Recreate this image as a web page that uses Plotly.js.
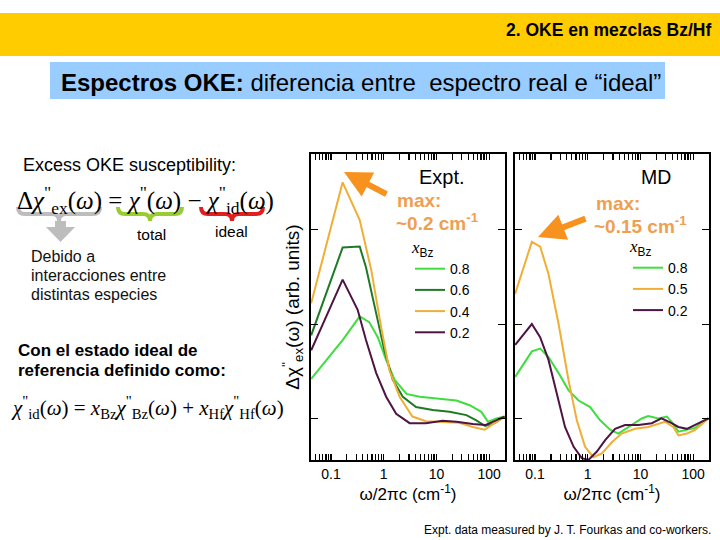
<!DOCTYPE html>
<html>
<head>
<meta charset="utf-8">
<script src="https://cdn.plot.ly/plotly-3.0.1.min.js"></script>
<style>
  html, body { margin: 0; padding: 0; background: #ffffff; }
  #chart { width: 720px; height: 540px; }
</style>
</head>
<body>
<div id="chart"></div>
<script>
// ---- Expt. panel (arb. units) ----
const exptFreq08 = [0.042, 0.166, 0.35, 0.53, 0.77, 1.11, 1.6, 2.7, 4.8, 11.4, 24, 42.6, 71, 95, 137, 196];
const exptVal08  = [0.42, 0.83, 1.08, 1.02, 0.86, 0.62, 0.41, 0.26, 0.23, 0.21, 0.19, 0.14, 0.07, -0.035, 0.0, 0.02];

const exptFreq06 = [0.042, 0.166, 0.35, 0.46, 0.72, 1.03, 1.48, 2.3, 4.1, 8.5, 17.7, 37, 57, 84, 127, 196];
const exptVal06  = [0.88, 1.81, 1.82, 1.60, 1.11, 0.72, 0.41, 0.23, 0.12, 0.09, 0.07, 0.035, -0.02, -0.08, -0.05, 0.02];

const exptFreq04 = [0.042, 0.166, 0.35, 0.58, 0.89, 1.28, 2.0, 3.5, 6.3, 13, 27, 49, 82, 110, 196];
const exptVal04  = [1.22, 2.50, 2.10, 1.57, 0.97, 0.51, 0.23, 0.02, -0.03, -0.035, -0.045, -0.09, -0.12, -0.07, 0.02];

const exptFreq02 = [0.042, 0.166, 0.32, 0.46, 0.72, 1.11, 1.72, 3.1, 6.3, 13, 24, 49, 84, 137, 196];
const exptVal02  = [0.72, 1.47, 1.15, 0.83, 0.48, 0.23, 0.05, -0.05, -0.05, -0.025, -0.035, -0.06, -0.07, -0.02, 0.02];

// ---- MD panel ----
const mdFreq08 = [0.042, 0.087, 0.125, 0.18, 0.28, 0.43, 0.67, 1.11, 1.72, 2.66, 3.8, 5.9, 10.6, 14, 21.9, 31.7, 39, 52.5, 76, 109, 195];
const mdVal08  = [0.44, 0.71, 0.74, 0.65, 0.48, 0.30, 0.19, 0.12, -0.02, -0.12, -0.16, -0.09, 0.0, 0.025, 0.0, 0.02, -0.035, -0.14, -0.12, -0.10, 0.0];

const mdFreq05 = [0.042, 0.087, 0.125, 0.18, 0.28, 0.43, 0.62, 0.89, 1.28, 1.85, 2.9, 4.4, 7.9, 14, 29, 42, 52.5, 76, 109, 195];
const mdVal05  = [1.32, 1.87, 1.82, 1.53, 1.0, 0.41, -0.02, -0.30, -0.41, -0.37, -0.25, -0.16, -0.11, -0.09, -0.035, -0.09, -0.18, -0.16, -0.12, 0.0];

const mdFreq02 = [0.042, 0.087, 0.125, 0.18, 0.26, 0.37, 0.54, 0.77, 1.03, 1.49, 2.14, 3.3, 5.1, 9.1, 16.4, 25, 39, 52.5, 76, 109, 195];
const mdVal02  = [0.78, 1.0, 0.86, 0.62, 0.26, -0.09, -0.30, -0.42, -0.44, -0.35, -0.23, -0.11, -0.07, -0.07, -0.05, 0.0, -0.05, -0.09, -0.11, -0.07, 0.0];

// ---- ticks ----
const freqMajorVals = [0.1, 1, 10, 100];
const freqMajorText = ["0.1", "1", "10", "100"];
const valTickVals = [0, 1, 2];

// log axis: every 2..9 step gets a tick, only decades get a label
const freqTickVals = [];
const freqTickText = [];
[0.01, 0.1, 1, 10, 100].forEach(decade => {
    for (let k = 1; k <= 9; k++) {
        const v = +(decade * k).toPrecision(3);
        const major = freqMajorVals.indexOf(v);
        freqTickVals.push(v);
        freqTickText.push(major >= 0 ? freqMajorText[major] : "");
    }
});

// colours
const LIGHT_GREEN = "#3FDD3F";
const DARK_GREEN = "#1F7A25";
const GOLD = "#F0AE35";
const PURPLE = "#4E1443";
const ORANGE_TEXT = "#EE9F52";
const ORANGE_ARROW = "#F7921E";

const SANS = "Liberation Sans, Arial, sans-serif";
const SERIF = "Liberation Serif, Times New Roman, serif";

// page pixel -> paper fraction (margins are zero)
const W = 720;
const H = 540;
const px = x => x / W;
const py = y => 1 - y / H;

function line(x, y, name, color, xaxis, yaxis, legend) {
    return {
        x,
        y,
        name,
        type: "scatter",
        mode: "lines",
        xaxis,
        yaxis,
        legend,
        line: {
            color,
            width: 2
        }
    };
}

const traces = [
    line(exptFreq08, exptVal08, "0.8", LIGHT_GREEN, "x", "y", "legend"),
    line(exptFreq06, exptVal06, "0.6", DARK_GREEN, "x", "y", "legend"),
    line(exptFreq04, exptVal04, "0.4", GOLD, "x", "y", "legend"),
    line(exptFreq02, exptVal02, "0.2", PURPLE, "x", "y", "legend"),

    line(mdFreq08, mdVal08, "0.8", LIGHT_GREEN, "x2", "y2", "legend2"),
    line(mdFreq05, mdVal05, "0.5", GOLD, "x2", "y2", "legend2"),
    line(mdFreq02, mdVal02, "0.2", PURPLE, "x2", "y2", "legend2")
];

function freqAxis(domain, anchor) {
    return {
        type: "log",
        domain,
        anchor,
        range: [-1.38, 2.30],
        tickmode: "array",
        tickvals: freqTickVals,
        ticktext: freqTickText,
        ticks: "inside",
        ticklen: 6,
        tickwidth: 1.2,
        tickcolor: "#000",
        showline: true,
        linecolor: "#000",
        linewidth: 2,
        mirror: "ticks",
        showgrid: false,
        zeroline: false,
        tickfont: { family: SANS, size: 14, color: "#000" },
        title: {
            text: "ω/2πc (cm<sup>-1</sup>)",
            font: { family: SANS, size: 17, color: "#000" },
            standoff: 6
        }
    };
}

function valAxis(domain, anchor) {
    return {
        domain,
        anchor,
        range: [-0.44, 2.80],
        tickmode: "array",
        tickvals: valTickVals,
        showticklabels: false,
        ticks: "inside",
        ticklen: 7,
        tickcolor: "#000",
        showline: true,
        linecolor: "#000",
        linewidth: 2,
        mirror: "ticks",
        showgrid: false,
        zeroline: false
    };
}

const plotTop = py(154);
const plotBottom = py(460);

const xaxis = freqAxis([px(311), px(505)], "y");
const xaxis2 = freqAxis([px(515), px(709)], "y2");
const yaxis = valAxis([plotBottom, plotTop], "x");
const yaxis2 = valAxis([plotBottom, plotTop], "x2");

yaxis.title = {
    text: "Δχ<sup>''</sup><sub>ex</sub>(ω) (arb. units)",
    font: { family: SANS, size: 19, color: "#000" },
    standoff: 4
};

function legendBox(x, y) {
    return {
        x,
        y,
        xanchor: "left",
        yanchor: "top",
        bgcolor: "rgba(0,0,0,0)",
        borderwidth: 0,
        itemwidth: 30,
        tracegroupgap: 0,
        font: { family: SANS, size: 14, color: "#000" },
        title: {
            text: "<i>x</i><span style=\"font-family:Liberation Sans\"><sub>Bz</sub></span>",
            side: "top",
            font: { family: SERIF, size: 17, color: "#000" }
        }
    };
}

// curly brace under an equation term, pixel coordinates
function brace(a, b, yTop, depth) {
    const mid = (a + b) / 2;
    const r = 7;
    const yMid = yTop + depth / 2;
    const pts = [
        ["M", a, yTop],
        ["Q", a, yMid, a + r, yMid],
        ["L", mid - r, yMid],
        ["Q", mid, yMid, mid, yTop + depth],
        ["Q", mid, yMid, mid + r, yMid],
        ["L", b - r, yMid],
        ["Q", b, yMid, b, yTop]
    ];
    return pts.map(p => {
        const coords = [];
        for (let i = 1; i < p.length; i += 2) {
            coords.push(px(p[i]) + "," + py(p[i + 1]));
        }
        return p[0] + coords.join(" ");
    }).join(" ");
}

function pathFrom(points) {
    return points.map((p, i) => (i === 0 ? "M" : "L") + px(p[0]) + "," + py(p[1])).join(" ") + " Z";
}

const shapes = [
    // yellow banner
    {
        type: "rect", xref: "paper", yref: "paper",
        x0: 0, x1: 1, y0: py(56), y1: py(13),
        fillcolor: "#FFCC00", line: { width: 0 }, layer: "below"
    },
    // blue title box
    {
        type: "rect", xref: "paper", yref: "paper",
        x0: px(50), x1: px(665), y0: py(99), y1: py(62),
        fillcolor: "#99CCFF", line: { width: 0 }, layer: "below"
    },
    {
        type: "path", xref: "paper", yref: "paper",
        path: brace(18, 100, 207, 14),
        line: { color: "#BDBDBD", width: 4 }
    },
    {
        type: "path", xref: "paper", yref: "paper",
        path: brace(118, 182, 207, 14),
        line: { color: "#99CC33", width: 4 }
    },
    {
        type: "path", xref: "paper", yref: "paper",
        path: brace(201, 263, 207, 14),
        line: { color: "#E02020", width: 4 }
    },
    // grey arrow pointing down
    {
        type: "path", xref: "paper", yref: "paper",
        path: pathFrom([[55, 221], [66, 221], [66, 227], [75, 227], [60.5, 242], [46, 227], [55, 227]]),
        fillcolor: "#BDBDBD", line: { width: 0 }
    }
];

function label(x, y, text, opts) {
    return Object.assign({
        xref: "paper",
        yref: "paper",
        x: px(x),
        y: py(y),
        text,
        showarrow: false,
        xanchor: "left",
        yanchor: "middle",
        align: "left",
        font: { family: SANS, size: 15, color: "#000" }
    }, opts || {});
}

function arrow(headX, headY, tailX, tailY) {
    return {
        xref: "paper",
        yref: "paper",
        x: px(headX),
        y: py(headY),
        ax: tailX - headX,
        ay: tailY - headY,
        text: "",
        showarrow: true,
        arrowhead: 2,
        arrowsize: 0.9,
        arrowwidth: 6,
        arrowcolor: ORANGE_ARROW,
        standoff: 0
    };
}

const orangeFont = { family: SANS, size: 19, color: ORANGE_TEXT, weight: "bold" };
const noteFont = { family: SANS, size: 16, color: "#111" };
const boldFont = { family: SANS, size: 17, color: "#000", weight: "bold" };

const annotations = [
    label(713, 30, "<b>2. OKE en mezclas Bz/Hf</b>", {
        xanchor: "right",
        font: { family: SANS, size: 17.5, color: "#000" }
    }),
    label(59, 82, "<b>Espectros OKE:</b> diferencia entre  espectro real e “ideal”", {
        font: { family: SANS, size: 24, color: "#000" }
    }),

    label(21, 165, "Excess OKE susceptibility:", {
        font: { family: SANS, size: 18, color: "#000" }
    }),
    label(15, 200,
        "Δ<i>χ</i><sup>\"</sup><sub>ex</sub>(<i>ω</i>) = <i>χ</i><sup>\"</sup>(<i>ω</i>) − <i>χ</i><sup>\"</sup><sub>id</sub>(<i>ω</i>)", {
        font: { family: SERIF, size: 25, color: "#000" }
    }),
    label(151, 234, "total", {
        xanchor: "center",
        font: { family: SANS, size: 15.5, color: "#000" }
    }),
    label(231, 231, "ideal", {
        xanchor: "center",
        font: { family: SANS, size: 15.5, color: "#000" }
    }),
    label(29, 257, "Debido a", { font: noteFont }),
    label(29, 275, "interacciones entre", { font: noteFont }),
    label(29, 294, "distintas especies", { font: noteFont }),
    label(16, 350, "Con el estado ideal de", { font: boldFont }),
    label(16, 370, "referencia definido como:", { font: boldFont }),
    label(9, 407,
        "<i>χ</i><sup>\"</sup><sub>id</sub>(<i>ω</i>) = <i>x</i><sub>Bz</sub><i>χ</i><sup>\"</sup><sub>Bz</sub>(<i>ω</i>) + <i>x</i><sub>Hf</sub><i>χ</i><sup>\"</sup><sub>Hf</sub>(<i>ω</i>)", {
        font: { family: SERIF, size: 21, color: "#000" }
    }),

    // Expt. panel
    label(442, 177, "Expt.", {
        xanchor: "center",
        font: { family: SANS, size: 20, color: "#000" }
    }),
    label(395, 200, "max:", { font: orangeFont }),
    label(394, 222, "~0.2 cm<sup>-1</sup>", { font: orangeFont }),
    arrow(344, 172, 388, 195),

    // MD panel
    label(656, 177, "MD", {
        xanchor: "center",
        font: { family: SANS, size: 19.5, color: "#000" }
    }),
    label(594, 203, "max:", { font: orangeFont }),
    label(592, 225, "~0.15 cm<sup>-1</sup>", { font: orangeFont }),
    arrow(538, 237, 587, 218),

    label(713, 530, "Expt. data measured by J. T. Fourkas and co-workers.", {
        xanchor: "right",
        font: { family: SANS, size: 12, color: "#000" }
    })
];

const layout = {
    width: W,
    height: H,
    margin: { t: 0, r: 0, b: 0, l: 0 },
    paper_bgcolor: "#ffffff",
    plot_bgcolor: "#ffffff",
    showlegend: true,
    xaxis,
    yaxis,
    xaxis2,
    yaxis2,
    legend: legendBox(px(410), py(231)),
    legend2: legendBox(px(628), py(230)),
    shapes,
    annotations
};

Plotly.newPlot("chart", traces, layout, {
    staticPlot: true,
    displayModeBar: false
});
</script>
</body>
</html>
